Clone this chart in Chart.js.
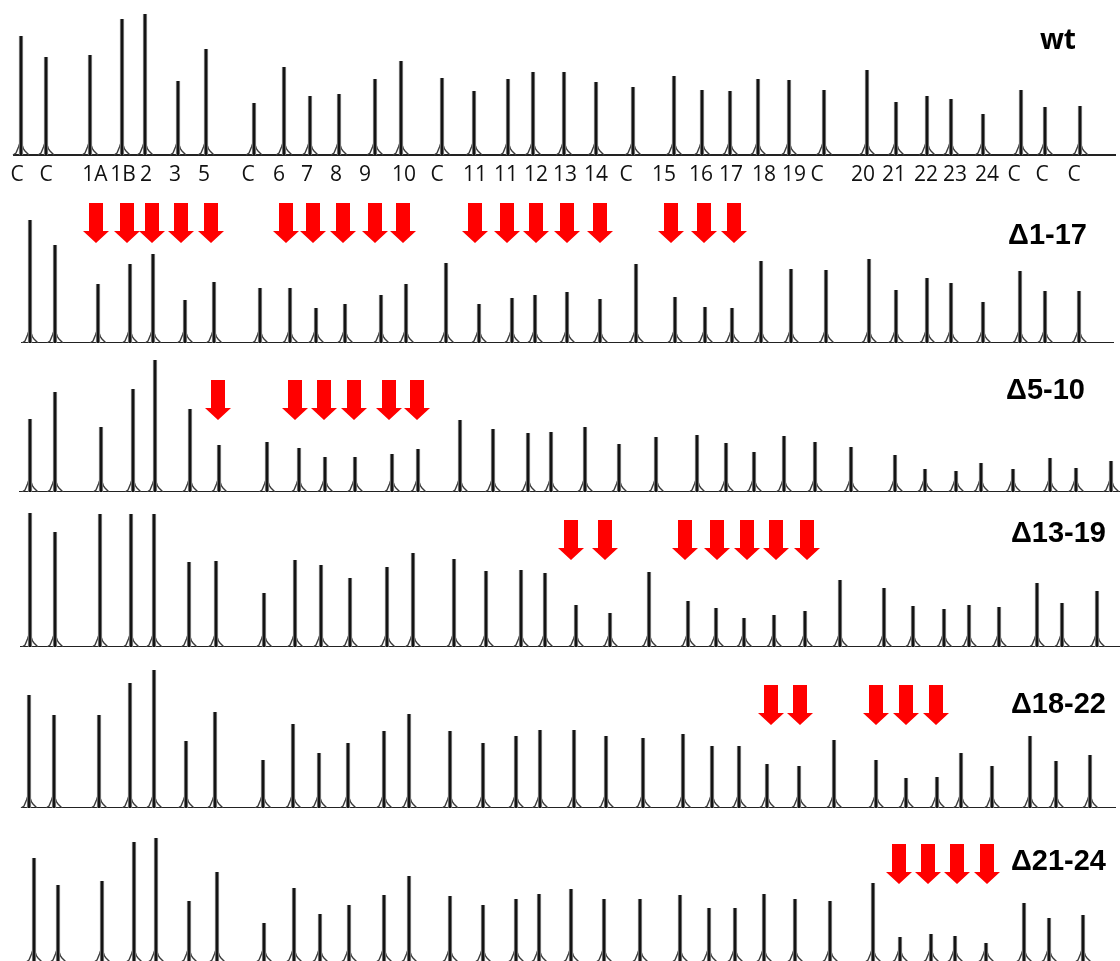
<!DOCTYPE html>
<html lang="en">
<head>
<meta charset="UTF-8" />
<title>Fragment traces: wt and deletions</title>
<script src="https://cdn.jsdelivr.net/npm/chart.js"></script>
<style>
  body { margin: 0; background: #fff; }
  #wrap { position: relative; width: 1120px; height: 961px; overflow: hidden; }
  #wrap canvas { position: absolute; left: 0; }
  .name {
    position: absolute;
    font-family: "Liberation Sans", Arial, sans-serif;
    font-weight: bold;
    font-size: 29px;
    line-height: 1;
    color: #000;
    white-space: nowrap;
  }
  .name.wt { font-family: "Open Sans", sans-serif; font-size: 28px; }
</style>
</head>
<body>
<div id="wrap"></div>
<script>
// labels printed under the wt trace
const tickLabels = ["C","C","1A","1B","2","3","5","C","6","7","8","9","10","C","11","11","12","13","14","C","15","16","17","18","19","C","20","21","22","23","24","C","C","C"];
const tickPos = [17,46,95,123,146,175,204,248,279,307,336,365,404,437,475,506,536,565,596,626,664,701,731,764,794,817,863,894,926,955,987,1014,1042,1074];

// peak position / peak height for each trace
const wtPos = [21,46,90,122,145,178,206,254,284,310,339,375,401,442,474,508,533,564,596,633,674,702,730,758,789,824,867,896,927,951,983,1021,1045,1080];
const wtHeight = [119,98,100,136,141,74,106,52,88,59,61,76,94,77,64,76,83,83,73,68,79,65,64,76,75,65,85,53,59,56,41,65,48,49];

const d1_17Pos = [30,55,98,130,153,185,214,260,290,316,345,381,406,446,479,512,535,567,600,636,675,705,732,761,791,826,869,896,927,951,983,1020,1045,1079];
const d1_17Height = [123,98,59,79,89,43,61,55,55,35,39,48,59,80,39,45,48,51,44,79,46,36,35,82,74,73,84,53,65,60,41,72,52,52];
const d1_17Arrows = [96,127,152,181,211,286,313,343,375,403,475,507,536,567,600,671,704,734];

const d5_10Pos = [30,55,101,133,155,190,219,267,299,325,355,392,418,460,493,528,551,585,619,656,697,726,754,784,815,851,895,925,956,981,1013,1050,1076,1111];
const d5_10Height = [73,100,65,103,132,83,47,50,44,35,35,38,43,72,63,59,60,65,48,55,57,49,40,56,50,45,37,23,21,29,23,34,24,31];
const d5_10Arrows = [218,295,324,354,389,417];

const d13_19Pos = [30,55,100,131,154,189,216,264,295,321,350,387,413,454,486,521,545,576,610,649,688,716,744,774,805,840,884,913,944,969,999,1037,1062,1097];
const d13_19Height = [134,115,133,133,133,85,86,54,87,82,69,80,94,88,76,77,74,42,34,75,46,39,29,32,36,67,59,41,38,42,40,64,44,56];
const d13_19Arrows = [571,605,685,717,747,776,807];

const d18_22Pos = [29,54,99,130,154,186,215,263,293,319,348,384,409,450,483,516,540,574,606,643,683,712,739,767,799,834,876,906,937,961,992,1030,1056,1090];
const d18_22Height = [113,93,93,125,138,67,96,48,84,55,65,77,94,77,65,72,78,78,72,70,74,62,62,44,42,68,48,30,31,55,42,72,47,53];
const d18_22Arrows = [771,800,876,906,936];

const d21_24Pos = [34,58,102,134,156,189,217,264,294,320,349,384,409,450,483,516,539,571,604,640,680,709,735,764,795,830,873,900,931,955,986,1024,1049,1083];
const d21_24Height = [104,77,81,120,124,61,90,39,74,48,57,67,86,66,57,63,68,73,63,63,67,54,54,68,63,61,79,25,28,26,19,59,44,47];
const d21_24Arrows = [899,928,957,987];

// where each trace sits on the page
const panels = [
  { name: "wt", pos: wtPos, height: wtHeight, arrows: [], top: 0, base: 155, x0: 14, x1: 1115, arrowY: 0, nameTop: 24, nameRight: 44, ticks: true },
  { name: "\u03941-17", pos: d1_17Pos, height: d1_17Height, arrows: d1_17Arrows, top: 190, base: 343, x0: 22, x1: 1113, arrowY: 120, nameTop: 220, nameRight: 33 },
  { name: "\u03945-10", pos: d5_10Pos, height: d5_10Height, arrows: d5_10Arrows, top: 350, base: 492, x0: 20, x1: 1120, arrowY: 92, nameTop: 375, nameRight: 35 },
  { name: "\u039413-19", pos: d13_19Pos, height: d13_19Height, arrows: d13_19Arrows, top: 500, base: 647, x0: 21, x1: 1120, arrowY: 107, nameTop: 518, nameRight: 14 },
  { name: "\u039418-22", pos: d18_22Pos, height: d18_22Height, arrows: d18_22Arrows, top: 655, base: 808, x0: 22, x1: 1115, arrowY: 103, nameTop: 689, nameRight: 14 },
  { name: "\u039421-24", pos: d21_24Pos, height: d21_24Height, arrows: d21_24Arrows, top: 815, base: 962, x0: 22, x1: 1115, arrowY: 98, nameTop: 846, nameRight: 14 },
];

const wrap = document.getElementById("wrap");

function arrowImage() {
  const c = document.createElement("canvas");
  c.width = 28;
  c.height = 40;
  const g = c.getContext("2d");
  g.fillStyle = "#ff0000";
  g.beginPath();
  g.moveTo(7, 0);
  g.lineTo(21, 0);
  g.lineTo(21, 28);
  g.lineTo(27, 28);
  g.lineTo(14, 40);
  g.lineTo(1, 28);
  g.lineTo(7, 28);
  g.closePath();
  g.fill();
  return c;
}

// little hump at the foot of every peak
function footImage() {
  const c = document.createElement("canvas");
  c.width = 18;
  c.height = 24;
  const g = c.getContext("2d");
  g.strokeStyle = "#3a3a3a";
  g.lineWidth = 1.4;
  g.beginPath();
  g.moveTo(1, 12);
  g.lineTo(4, 10);
  g.lineTo(6.5, 4);
  g.lineTo(7.5, 1);
  g.moveTo(10.5, 3);
  g.lineTo(11.5, 6);
  g.lineTo(13, 8);
  g.lineTo(17, 12);
  g.stroke();
  return c;
}

const arrowImg = arrowImage();
const footImg = footImage();

panels.forEach((p) => {
  const axisH = p.ticks ? 40 : 0;
  const h = p.base - p.top;
  const canvas = document.createElement("canvas");
  canvas.width = 1120;
  canvas.height = h + axisH;
  canvas.style.top = p.top + "px";
  wrap.appendChild(canvas);

  const peaks = p.pos.map((x, i) => ({ x: x, y: p.height[i] }));
  const feet = p.pos.map((x) => ({ x: x, y: 0 }));
  const arrows = p.arrows.map((x) => ({ x: x, y: p.arrowY }));

  new Chart(canvas, {
    type: "bar",
    data: {
      datasets: [
        {
          type: "scatter",
          data: arrows,
          pointStyle: arrowImg,
          pointRadius: 14,
          clip: false,
          order: 0,
        },
        {
          type: "bar",
          data: peaks,
          backgroundColor: "#141414",
          borderColor: "#9a9a9a",
          borderWidth: { left: 1, right: 1, top: 0, bottom: 0 },
          borderSkipped: "start",
          barThickness: 4,
          clip: false,
          order: 1,
        },
        {
          type: "scatter",
          data: feet,
          pointStyle: footImg,
          pointRadius: 9,
          clip: false,
          order: 2,
        },
      ],
    },
    options: {
      responsive: false,
      animation: false,
      events: [],
      layout: { autoPadding: false, padding: { left: p.x0, right: 1120 - p.x1, top: 0, bottom: 0 } },
      plugins: { legend: { display: false }, tooltip: { enabled: false } },
      scales: {
        x: {
          type: "linear",
          min: p.x0,
          max: p.x1,
          offset: false,
          grid: { display: false, drawTicks: false },
          border: { display: true, color: "#222", width: 2 },
          afterBuildTicks: (scale) => {
            if (p.ticks) scale.ticks = tickPos.map((v) => ({ value: v }));
          },
          afterFit: (scale) => {
            scale.height = axisH;
          },
          ticks: {
            display: !!p.ticks,
            autoSkip: false,
            maxRotation: 0,
            minRotation: 0,
            padding: 7,
            color: "#111",
            font: { family: "Open Sans", size: 21 },
            callback: (v, i) => tickLabels[i],
          },
        },
        y: {
          display: false,
          min: 0,
          max: h,
        },
      },
    },
  });

  const label = document.createElement("div");
  label.className = p.ticks ? "name wt" : "name";
  label.textContent = p.name;
  label.style.top = p.nameTop + "px";
  label.style.right = p.nameRight + "px";
  wrap.appendChild(label);
});
</script>
</body>
</html>
